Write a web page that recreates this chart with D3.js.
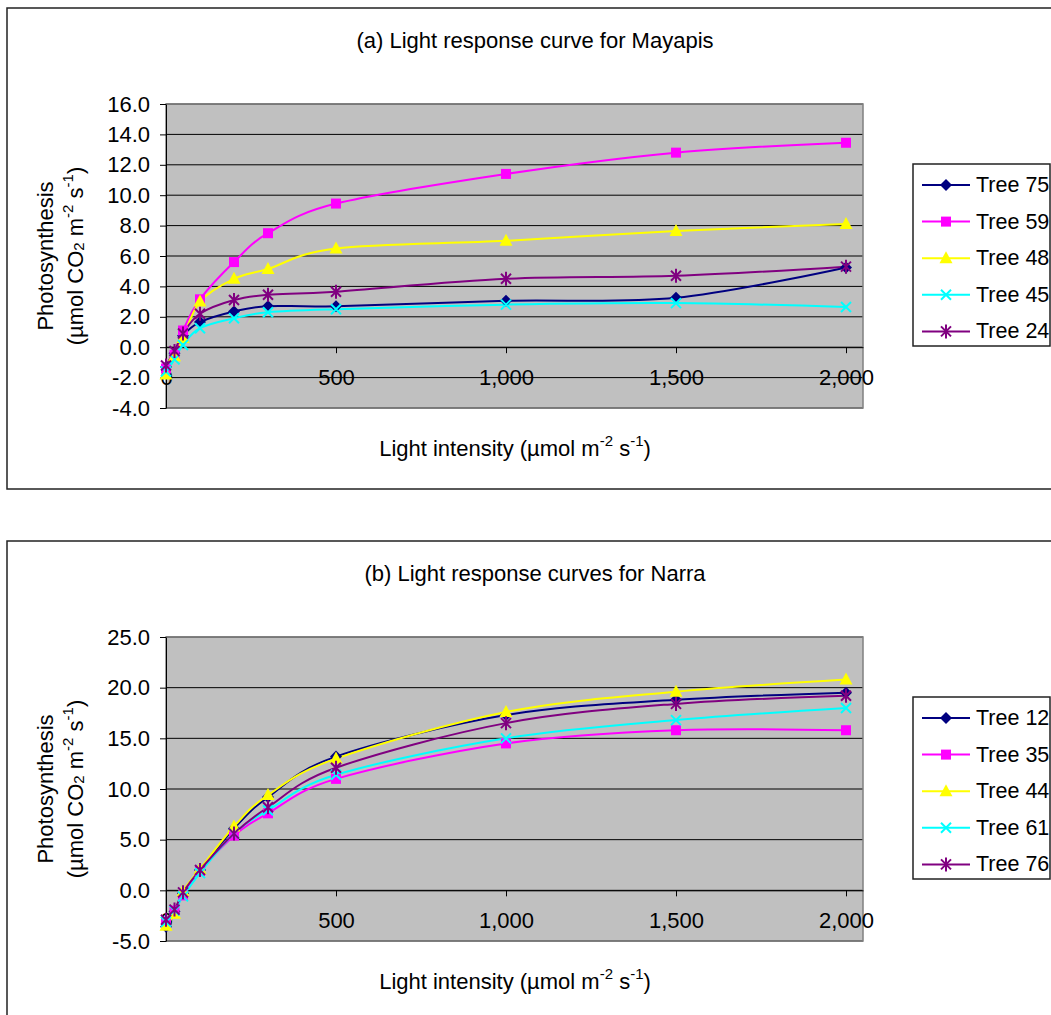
<!DOCTYPE html>
<html>
<head>
<meta charset="utf-8">
<script src="https://cdn.jsdelivr.net/npm/d3@7"></script>
<style>
    body { margin: 0; background: #fff; }
    svg { font-family: "Liberation Sans", Arial, sans-serif; }
</style>
</head>
<body>
<svg id="chart" width="1051" height="1015"></svg>
<script>
// light levels shared by both panels
const lightIntensity = [0, 25, 50, 100, 200, 300, 500, 1000, 1500, 2000];

// (a) Mayapis
const mayapisTrees = ['Tree 75', 'Tree 59', 'Tree 48', 'Tree 45', 'Tree 24'];
const mayapisTree75 = [-1.3, -0.4, 0.75, 1.65, 2.35, 2.7, 2.7, 3.05, 3.25, 5.25];
const mayapisTree59 = [-1.4, -0.5, 1.1, 3.15, 5.6, 7.5, 9.45, 11.4, 12.8, 13.45];
const mayapisTree48 = [-1.8, -0.6, 0.6, 3.0, 4.5, 5.15, 6.5, 7.0, 7.65, 8.1];
const mayapisTree45 = [-1.6, -0.8, 0.15, 1.25, 1.9, 2.3, 2.5, 2.8, 2.9, 2.65];
const mayapisTree24 = [-1.2, -0.25, 0.9, 2.2, 3.1, 3.45, 3.65, 4.5, 4.7, 5.3];
const mayapisTicks = [-4, -2, 0, 2, 4, 6, 8, 10, 12, 14, 16];

// (b) Narra
const narraTrees = ['Tree 12', 'Tree 35', 'Tree 44', 'Tree 61', 'Tree 76'];
const narraTree12 = [-3.6, -2.1, -0.3, 2.0, 6.1, 9.2, 13.2, 17.3, 18.8, 19.5];
const narraTree35 = [-3.3, -2.0, -0.5, 1.9, 5.4, 7.6, 11.0, 14.5, 15.8, 15.8];
const narraTree44 = [-3.5, -2.3, -0.1, 2.1, 6.3, 9.4, 13.0, 17.6, 19.6, 20.8];
const narraTree61 = [-3.1, -2.0, -0.6, 1.7, 5.6, 7.9, 11.4, 15.0, 16.8, 18.0];
const narraTree76 = [-2.9, -1.9, -0.2, 2.0, 5.6, 8.2, 12.1, 16.5, 18.4, 19.2];
const narraTicks = [-5, 0, 5, 10, 15, 20, 25];

const xTicks = [0, 500, 1000, 1500, 2000];

// series styling (same order in both panels)
const colors = ['#000080', '#FF00FF', '#FFFF00', '#00FFFF', '#800080'];
const markers = ['diamond', 'square', 'triangle', 'cross', 'star'];

const fontSize = 22;
const supSize = 15;

const svg = d3.select('#chart');

const drawMarker = (g, type, color) => {
    if (type === 'diamond') {
        g.append('path').attr('d', 'M0,-6L6,0L0,6L-6,0Z').attr('fill', color);
    } else if (type === 'square') {
        g.append('rect').attr('x', -5).attr('y', -5).attr('width', 10).attr('height', 10).attr('fill', color);
    } else if (type === 'triangle') {
        g.append('path').attr('d', 'M0,-7L6.5,5L-6.5,5Z').attr('fill', color);
    } else if (type === 'cross') {
        g.append('path').attr('d', 'M-5,-5L5,5M-5,5L5,-5').attr('stroke', color).attr('stroke-width', 2);
    } else {
        g.append('path').attr('d', 'M-5,-5L5,5M-5,5L5,-5M0,-7L0,7').attr('stroke', color).attr('stroke-width', 2);
    }
};

const drawChart = (top, title, names, series, yDomain, yTicks) => {
    const margin = { left: 166, right: 863, top: top + 96, bottom: top + 400 };
    const chart = svg.append('g');

    // outer frame (runs off the right edge like the source)
    chart.append('rect')
        .attr('x', 7).attr('y', top)
        .attr('width', 1080).attr('height', 481)
        .attr('fill', 'none').attr('stroke', '#222').attr('stroke-width', 1.5);

    chart.append('text')
        .attr('x', 535).attr('y', top + 32)
        .attr('text-anchor', 'middle').attr('dominant-baseline', 'central')
        .attr('font-size', fontSize)
        .text(title);

    const x = d3.scaleLinear().domain([0, 2050]).range([margin.left, margin.right]);
    const y = d3.scaleLinear().domain(yDomain).range([margin.bottom, margin.top]);

    // plot background
    chart.append('rect')
        .attr('x', margin.left).attr('y', margin.top)
        .attr('width', margin.right - margin.left).attr('height', margin.bottom - margin.top)
        .attr('fill', '#C0C0C0');

    // gridlines
    chart.selectAll('.grid').data(yTicks).enter()
        .append('line')
        .attr('class', 'grid')
        .attr('x1', margin.left).attr('x2', margin.right)
        .attr('y1', d => y(d)).attr('y2', d => y(d))
        .attr('stroke', '#000').attr('stroke-width', 1);

    chart.append('rect')
        .attr('x', margin.left).attr('y', margin.top)
        .attr('width', margin.right - margin.left).attr('height', margin.bottom - margin.top)
        .attr('fill', 'none').attr('stroke', '#808080').attr('stroke-width', 1.5);

    // y axis
    const yAxis = chart.append('g')
        .attr('transform', `translate(${margin.left},0)`)
        .call(d3.axisLeft(y).tickValues(yTicks).tickSize(6).tickSizeOuter(0).tickPadding(10)
            .tickFormat(d => d.toFixed(1)));
    yAxis.selectAll('text').attr('font-size', fontSize).attr('fill', '#000').attr('font-family', null);
    yAxis.selectAll('line, path').attr('stroke', '#000');

    // x axis on the zero line
    const xAxis = chart.append('g')
        .attr('transform', `translate(0,${y(0)})`)
        .call(d3.axisBottom(x).tickValues(xTicks).tickSize(6).tickSizeOuter(0).tickPadding(16)
            .tickFormat(d3.format(',')));
    xAxis.selectAll('text').attr('font-size', fontSize).attr('fill', '#000').attr('font-family', null);
    xAxis.selectAll('line, path').attr('stroke', '#000');

    // series lines + markers
    const line = d3.line()
        .x((d, i) => x(lightIntensity[i]))
        .y(d => y(d))
        .curve(d3.curveCatmullRom.alpha(0));

    series.forEach((values, k) => {
        chart.append('path')
            .attr('d', line(values))
            .attr('fill', 'none')
            .attr('stroke', colors[k])
            .attr('stroke-width', 2);
    });
    series.forEach((values, k) => {
        values.forEach((v, i) => {
            const m = chart.append('g').attr('transform', `translate(${x(lightIntensity[i])},${y(v)})`);
            drawMarker(m, markers[k], colors[k]);
        });
    });

    // axis titles
    const xLabel = chart.append('text')
        .attr('x', 515).attr('y', top + 440)
        .attr('text-anchor', 'middle').attr('dominant-baseline', 'central')
        .attr('font-size', fontSize);
    xLabel.append('tspan').text('Light intensity (µmol m');
    xLabel.append('tspan').attr('font-size', supSize).attr('dy', -8).text('-2');
    xLabel.append('tspan').attr('dy', 8).text(' s');
    xLabel.append('tspan').attr('font-size', supSize).attr('dy', -8).text('-1');
    xLabel.append('tspan').attr('dy', 8).text(')');

    const midY = (margin.top + margin.bottom) / 2;
    chart.append('text')
        .attr('transform', `translate(45,${midY}) rotate(-90)`)
        .attr('text-anchor', 'middle').attr('dominant-baseline', 'central')
        .attr('font-size', fontSize)
        .text('Photosynthesis');
    const yLabel = chart.append('text')
        .attr('transform', `translate(75,${midY}) rotate(-90)`)
        .attr('text-anchor', 'middle').attr('dominant-baseline', 'central')
        .attr('font-size', fontSize);
    yLabel.append('tspan').text('(µmol CO');
    yLabel.append('tspan').attr('font-size', supSize).attr('dy', 3).text('2');
    yLabel.append('tspan').attr('dy', -3).text(' m');
    yLabel.append('tspan').attr('font-size', supSize).attr('dy', -8).text('-2');
    yLabel.append('tspan').attr('dy', 8).text(' s');
    yLabel.append('tspan').attr('font-size', supSize).attr('dy', -8).text('-1');
    yLabel.append('tspan').attr('dy', 8).text(')');

    // legend
    const legend = chart.append('g').attr('transform', `translate(913,${top + 156})`);
    legend.append('rect')
        .attr('x', 0).attr('y', 0).attr('width', 137).attr('height', 182)
        .attr('fill', '#fff').attr('stroke', '#222').attr('stroke-width', 1.5);
    names.forEach((name, k) => {
        const row = legend.append('g').attr('transform', `translate(0,${21 + k * 36.6})`);
        row.append('line').attr('x1', 9).attr('x2', 57).attr('y1', 0).attr('y2', 0)
            .attr('stroke', colors[k]).attr('stroke-width', 2);
        drawMarker(row.append('g').attr('transform', 'translate(33,0)'), markers[k], colors[k]);
        row.append('text').attr('x', 63).attr('y', 0)
            .attr('dominant-baseline', 'central').attr('font-size', 21.5)
            .text(name);
    });
};

drawChart(8, '(a) Light response curve for Mayapis', mayapisTrees,
    [mayapisTree75, mayapisTree59, mayapisTree48, mayapisTree45, mayapisTree24],
    [-4, 16], mayapisTicks);

drawChart(541, '(b) Light response curves for Narra', narraTrees,
    [narraTree12, narraTree35, narraTree44, narraTree61, narraTree76],
    [-5, 25], narraTicks);
</script>
</body>
</html>
